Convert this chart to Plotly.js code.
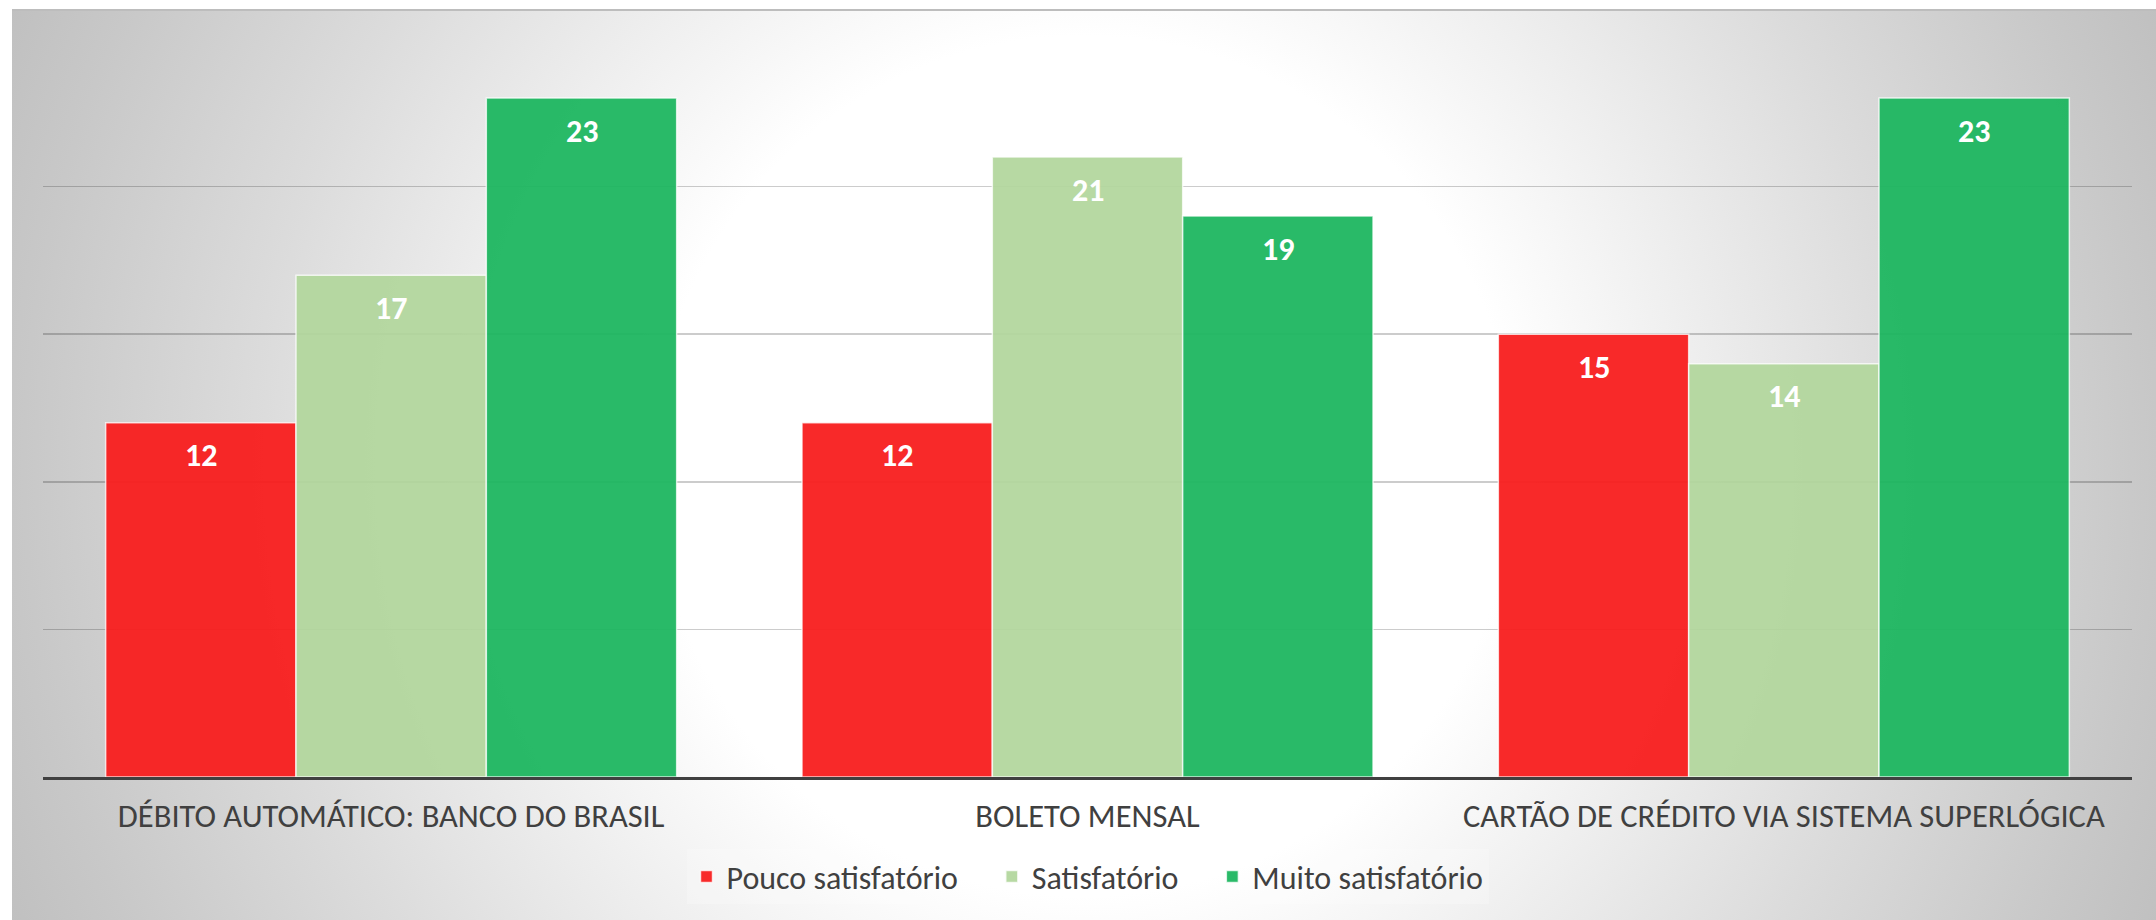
<!DOCTYPE html>
<html>
<head>
<meta charset="utf-8">
<script src="https://cdn.plot.ly/plotly-3.0.1.min.js"></script>
<style>
  html, body { margin:0; padding:0; background:#ffffff; width:2156px; height:920px; overflow:hidden; }
  #bg { position:absolute; left:12px; top:9px; right:0; bottom:0;
        border-top:2px solid #bdbdbd;
        background: radial-gradient(circle 1180px at 1072px 455px, #ffffff 0px, #ffffff 430px, #dcdcdc 820px, #c8c8c8 1060px, #bfbfbf 1180px); }
  #chart { position:absolute; left:0; top:0; width:2156px; height:920px; }
</style>
</head>
<body>
<div id="bg"></div>
<div id="chart"></div>
<script>
const categories = ["DÉBITO AUTOMÁTICO: BANCO DO BRASIL", "BOLETO MENSAL", "CARTÃO DE CRÉDITO VIA SISTEMA SUPERLÓGICA"];
const seriesNames = ["Pouco satisfatório", "Satisfatório", "Muito satisfatório"];
const pouco = [12, 12, 15];
const satisf = [17, 21, 14];
const muito = [23, 19, 23];
const seriesValues = [pouco, satisf, muito];
const seriesColors = ["rgba(248,30,30,0.95)", "rgba(178,214,156,0.93)", "rgba(30,182,96,0.95)"];

const FONT = "Carlito, Calibri, Lato, 'Open Sans', sans-serif";
const bargap = 0.18;
const nS = seriesValues.length;
const barW = (1 - bargap) / nS;
const PAD = '\u00a0\u00a0\u00a0\u00a0';

const traces = seriesValues.map((vals, j) => ({
  type: 'bar',
  name: seriesNames[j] + (j < nS - 1 ? PAD : ''),
  x: categories,
  y: vals,
  marker: { color: seriesColors[j], line: { color: 'rgba(255,255,255,0.75)', width: 1.5 } },
  hoverinfo: 'none'
}));

const annotations = [];
seriesValues.forEach((vals, j) => {
  vals.forEach((v, i) => {
    annotations.push({
      x: i + (j - (nS - 1) / 2) * barW, y: v, xref: 'x', yref: 'y',
      text: '<b>' + v + '</b>', showarrow: false,
      yanchor: 'middle', yshift: -33,
      font: { family: FONT, size: 32, color: '#ffffff' }
    });
  });
});

const layout = {
  width: 2156, height: 920,
  margin: { l: 43, r: 24, t: 39, b: 143 },
  paper_bgcolor: 'rgba(0,0,0,0)',
  plot_bgcolor: 'rgba(0,0,0,0)',
  barmode: 'group',
  bargap: bargap,
  bargroupgap: 0,
  showlegend: true,
  legend: {
    orientation: 'h', x: 0.5, xanchor: 'center', y: -0.135, yanchor: 'middle',
    bgcolor: 'rgba(255,255,255,0.22)',
    font: { family: FONT, size: 32, color: '#404040' },
    itemwidth: 30, traceorder: 'normal'
  },
  xaxis: {
    type: 'category',
    showgrid: false,
    showline: true, linecolor: '#404040', linewidth: 3,
    ticks: '', ticklabelstandoff: 8,
    tickfont: { family: FONT, size: 32.5, color: '#404040' },
    fixedrange: true
  },
  yaxis: {
    range: [0, 25], dtick: 5, tick0: 0,
    showticklabels: false, ticks: '',
    showgrid: true, gridcolor: 'rgba(0,0,0,0.2)', gridwidth: 1.5,
    zeroline: false, showline: false,
    fixedrange: true
  },
  annotations: annotations
};

Plotly.newPlot('chart', traces, layout, { displayModeBar: false, staticPlot: true });
</script>
</body>
</html>
